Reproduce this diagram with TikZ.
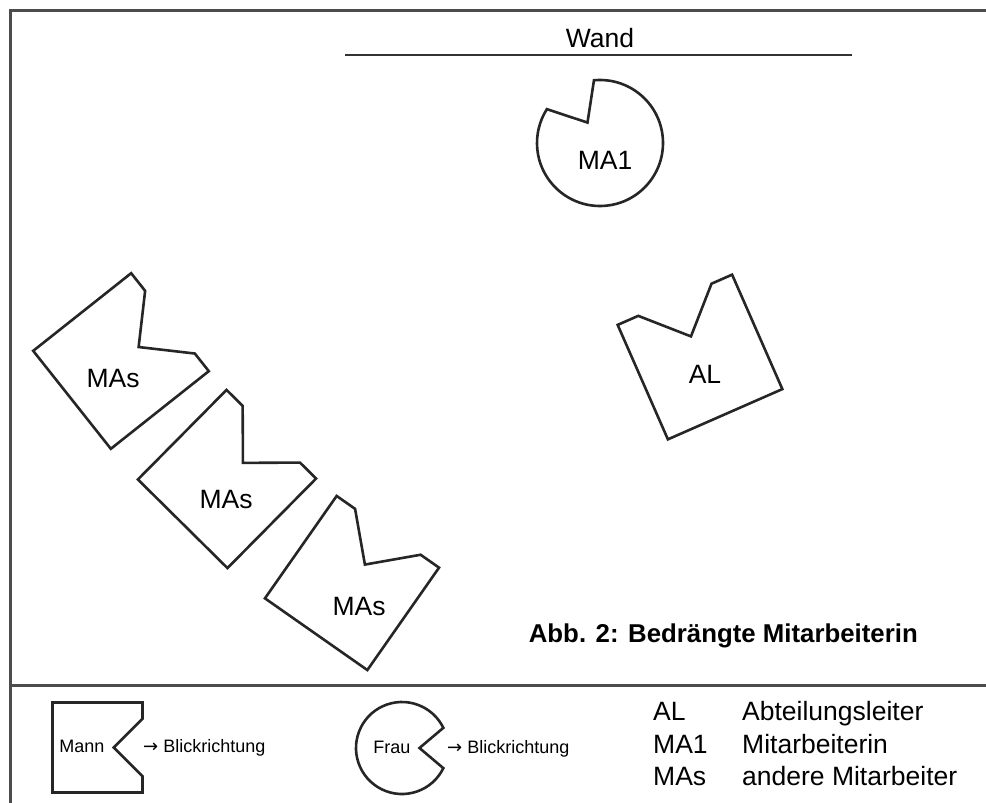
\documentclass[tikz,border=0pt]{standalone}
\usepackage{fontspec}
\setmainfont{Liberation Sans}
\newfontfamily\arrowfont{DejaVu Sans}
\usetikzlibrary{positioning}

\begin{document}
\begin{tikzpicture}[x=1pt, y=-1pt,
    outline/.style={line width=2.6pt, line join=miter, black!85},
    frame/.style={line width=3pt, black!70},
    bigtext/.style={inner sep=0pt, anchor=base, font=\fontsize{26.5}{30}\selectfont},
    smalltext/.style={inner sep=0pt, anchor=base, font=\fontsize{18}{21}\selectfont},
    mann/.pic={\draw[outline] (-0.5,-0.5) -- (0.5,-0.5) -- (0.5,-0.32) -- (0.18,0) -- (0.5,0.32) -- (0.5,0.5) -- (-0.5,0.5) -- cycle;},
    frau/.pic={\draw[outline] (0.38,0) -- (26:1) arc[start angle=26, end angle=334, radius=1] -- cycle;}]
            \useasboundingbox (0,0) rectangle (986,803);
            % Room with wall and legend strip
            \draw[frame] (986,10) -- (10,10) -- (10,803);
            \draw[frame] (10,685) -- (986,685);
            \coordinate (wandl) at (345,55);
            \coordinate (wandr) at (852,55);
            \draw[line width=2pt, black!80] (wandl) -- (wandr);
            \node[bigtext] (wand) at (600,47) {Wand};

            % Persons with viewing direction
            \pic[rotate=121.5, scale=63] at (600,143) {frau};
            \pic[rotate=113.7, scale=125] at (700,357) {mann};
            \pic[rotate=38.4, scale=125] at (121,361) {mann};
            \pic[rotate=45.3, scale=126] at (227,479) {mann};
            \pic[rotate=55, scale=125] at (352,583) {mann};
            \node[bigtext] (ma1) at (605,169) {MA1};
            \node[bigtext] (al) at (705,383) {AL};
            \node[bigtext] (mas1) at (113,387) {MAs};
            \node[bigtext] (mas2) at (226,508) {MAs};
            \node[bigtext] (mas3) at (359,615) {MAs};
            \node[bigtext, anchor=base east, font=\fontsize{25.8}{30}\selectfont\bfseries] (caption) at (918,642) {Abb. 2: Bedrängte Mitarbeiterin};

            % Legend
            \pic at (97.5,747.5) [scale=90] {mann};
            \pic at (402,748) [scale=46] {frau};
            \node[smalltext] (mann) at (82,752) {Mann};
            \node[smalltext, anchor=base west] (blick1) at (143,752) {{\arrowfont →} Blickrichtung};
            \node[smalltext] (frau) at (392,753) {Frau};
            \node[smalltext, anchor=base west] (blick2) at (447,753) {{\arrowfont →} Blickrichtung};
            \node[bigtext, anchor=base west] (k1) at (653,720) {AL};
            \node[bigtext, anchor=base west] (k2) at (653,753) {MA1};
            \node[bigtext, anchor=base west] (k3) at (653,785) {MAs};
            \node[bigtext, anchor=base west] (v1) at (742,720) {Abteilungsleiter};
            \node[bigtext, anchor=base west] (v2) at (742,753) {Mitarbeiterin};
            \node[bigtext, anchor=base west] (v3) at (742,785) {andere Mitarbeiter};
        \end{tikzpicture}
\end{document}
